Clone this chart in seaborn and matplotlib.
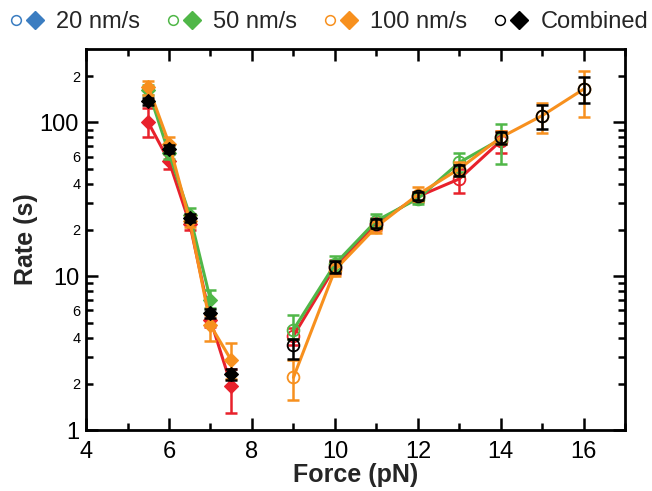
import numpy as np
import pandas as pd
import matplotlib
matplotlib.use("Agg")
import matplotlib.pyplot as plt
import seaborn as sns
from matplotlib.ticker import FixedLocator, FuncFormatter, MultipleLocator, NullFormatter
from matplotlib.lines import Line2D
from matplotlib.legend_handler import HandlerTuple

# ---- data: unfolding (diamonds, low force) and refolding (circles, high force) ----
x_left = [5.5, 6.0, 6.5, 7.0, 7.5]
x_right = [9, 10, 11, 12, 13, 14, 15, 16]

# 20 nm/s
r20_left = [100, 56, 22, 5.2, 1.95]
r20_left_lo = [20, 6, 2, 0.5, 0.65]
r20_left_hi = [25, 6, 2, 0.5, 0.55]
r20_right = [4.1, 11.5, 22, 33, 43, 76]
r20_right_lo = [0.5, 1.2, 2, 2.5, 8, 13]
r20_right_hi = [0.5, 1.2, 2, 2.5, 7, 12]

# 50 nm/s
r50_left = [162, 63, 25, 7.0]
r50_left_lo = [12, 5, 2, 0.8]
r50_left_hi = [12, 5, 3, 1.1]
r50_right = [4.5, 12, 23, 32, 55, 78]
r50_right_lo = [0.6, 1.2, 2, 2.5, 7, 24]
r50_right_hi = [1.1, 1.5, 2.6, 3, 8, 20]

# 100 nm/s
r100_left = [171, 73, 23, 4.8, 2.85]
r100_left_lo = [20, 7, 2, 1.0, 0.7]
r100_left_hi = [15, 7, 2, 0.8, 0.85]
r100_right = [2.2, 11, 21, 34, 50, 80, 111, 165]
r100_right_lo = [0.63, 1, 2, 3, 5, 8, 25, 57]
r100_right_hi = [0.65, 1, 2, 4, 5, 8, 22, 52]

# combined
comb_left = [137, 67, 24, 5.75, 2.31]
comb_left_lo = [8, 4, 1.5, 0.4, 0.2]
comb_left_hi = [8, 4, 1.5, 0.4, 0.2]
comb_right = [3.56, 11.5, 22, 33.5, 49, 80, 111, 165]
comb_right_lo = [0.66, 1, 1.5, 2, 4, 7, 20, 32]
comb_right_hi = [0.34, 1, 1.5, 2, 4, 7, 18, 33]

legend_labels = ["20 nm/s", "50 nm/s", "100 nm/s", "Combined"]

# ---- style ----
sns.set_theme(style="ticks")
plt.rcParams["font.family"] = ["Liberation Sans", "DejaVu Sans"]

RED = "#E8212B"
BLUE = "#3B7DC1"
GREEN = "#50B748"
ORANGE = "#F7901E"
BLACK = "#000000"

fig = plt.figure(figsize=(6.52, 4.91), dpi=100)
ax = fig.add_axes([0.132, 0.124, 0.827, 0.776])

series = [
    # color, left (y, lo, hi), right (y, lo, hi), draw line, z
    (RED, (r20_left, r20_left_lo, r20_left_hi), (r20_right, r20_right_lo, r20_right_hi), True, 2),
    (GREEN, (r50_left, r50_left_lo, r50_left_hi), (r50_right, r50_right_lo, r50_right_hi), True, 3),
    (ORANGE, (r100_left, r100_left_lo, r100_left_hi), (r100_right, r100_right_lo, r100_right_hi), True, 4),
    (BLACK, (comb_left, comb_left_lo, comb_left_hi), (comb_right, comb_right_lo, comb_right_hi), False, 6),
]

for color, left, right, with_line, z in series:
    for xs_all, (ys, lo, hi), marker in ((x_left, left, "D"), (x_right, right, "o")):
        xs = xs_all[:len(ys)]
        if with_line:
            df = pd.DataFrame({"force": xs, "rate": ys})
            sns.lineplot(data=df, x="force", y="rate", ax=ax, color=color, lw=2.2,
                         sort=False, estimator=None, zorder=z)
        if marker == "D":
            mkw = dict(marker="D", ms=7.3, mfc=color, mec=color, mew=0.8)
        else:
            mkw = dict(marker="o", ms=8.5, mfc="none", mec=color, mew=1.3)
        ax.errorbar(xs, ys, yerr=[lo, hi], fmt="none", ecolor=color, elinewidth=1.8,
                    capsize=4.5, capthick=1.8, zorder=z + 0.2)
        ax.plot(xs, ys, linestyle="none", zorder=z + 0.4, **mkw)

# ---- axes ----
ax.set_yscale("log")
ax.set_xlim(4, 17)
ax.set_ylim(1, 300)
ax.xaxis.set_major_locator(MultipleLocator(2))
ax.xaxis.set_minor_locator(MultipleLocator(1))
ax.xaxis.set_minor_formatter(NullFormatter())

ax.yaxis.set_major_locator(FixedLocator([1, 10, 100]))
ax.yaxis.set_major_formatter(FuncFormatter(lambda v, p: f"{v:g}"))
minor_vals = [m * d for d in (1, 10, 100) for m in range(2, 10) if m * d < 300]
ax.yaxis.set_minor_locator(FixedLocator(minor_vals))


def minor_label(v, pos):
    lead = int(round(v / 10 ** np.floor(np.log10(v) + 1e-9)))
    return str(lead) if lead in (2, 4, 6) else ""


ax.yaxis.set_minor_formatter(FuncFormatter(minor_label))

for side in ax.spines.values():
    side.set_linewidth(2.0)
    side.set_color("black")

ax.tick_params(which="both", direction="in", top=True, right=True, color="black",
               width=1.8, labelcolor="black")
ax.tick_params(which="major", length=8.5, labelsize=17)
ax.tick_params(axis="y", which="major", pad=5)
ax.tick_params(axis="x", which="major", pad=8)
ax.tick_params(axis="y", which="minor", length=5, labelsize=10.5, pad=4)
ax.tick_params(axis="x", which="minor", length=5)

ax.set_xlabel("Force (pN)", fontsize=18, fontweight="bold", labelpad=0)
ax.set_ylabel("Rate (s)", fontsize=18, fontweight="bold", labelpad=1)
ax.grid(False)

# ---- legend: open circle + filled diamond per series ----
legend_colors = [BLUE, GREEN, ORANGE, BLACK]
handles = []
for c in legend_colors:
    circ = Line2D([], [], linestyle="none", marker="o", ms=7, mfc="white", mec=c, mew=1.1)
    diam = Line2D([], [], linestyle="none", marker="D", ms=9.5, mfc=c, mec=c)
    handles.append((circ, diam))

fig.legend(handles, legend_labels, loc="center", bbox_to_anchor=(0.502, 0.955), ncol=4,
           frameon=False, fontsize=17, handler_map={tuple: HandlerTuple(ndivide=None, pad=0.0)},
           handlelength=1.6, handletextpad=0.5, columnspacing=1.0, borderaxespad=0)

fig.savefig("out.png", dpi=100)
